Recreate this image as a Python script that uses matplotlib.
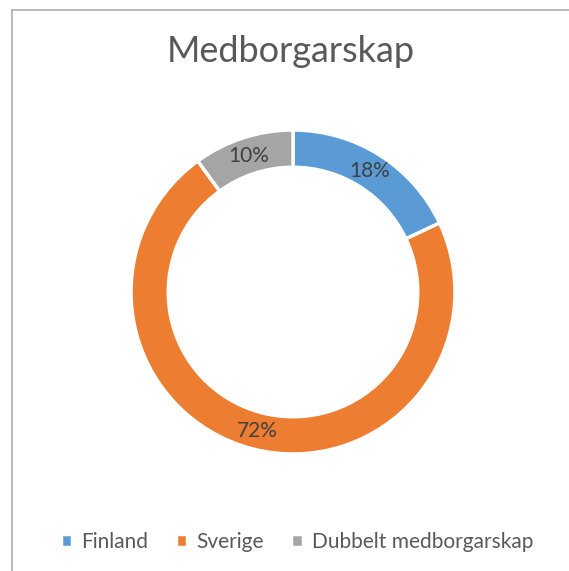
import matplotlib.pyplot as plt
from matplotlib.lines import Line2D

categories = ["Finland", "Sverige", "Dubbelt medborgarskap"]
shares = [18, 72, 10]
colors = ["#5B9BD5", "#ED7D31", "#A5A5A5"]

plt.rcParams['font.family'] = ['Lato', 'DejaVu Sans']

W, H = 569, 571
fig = plt.figure(figsize=(W / 100, H / 100), dpi=100)

# frame (top and left edges visible)
fig.add_artist(Line2D([11.5 / W, 11.5 / W], [0, 1 - 9.5 / H], transform=fig.transFigure,
                      color="#b3b3b3", lw=1.3))
fig.add_artist(Line2D([11.5 / W, 1], [1 - 9.5 / H, 1 - 9.5 / H], transform=fig.transFigure,
                      color="#b3b3b3", lw=1.3))

cx, cy, r = 293, 292, 162
ax = fig.add_axes([(cx - r) / W, (H - cy - r) / H, 2 * r / W, 2 * r / H])

wedges, texts, autotexts = ax.pie(
    shares, colors=colors, startangle=90, counterclock=False,
    radius=1.0, wedgeprops=dict(width=0.23, edgecolor="white", linewidth=2.5),
    autopct=lambda p: f"{p:.0f}%", pctdistance=0.885,
    textprops=dict(fontsize=15, color="#404040"))
ax.set_xlim(-1, 1)
ax.set_ylim(-1, 1)
ax.set_aspect("equal")

fig.text(291 / W, 1 - 52 / H, "Medborgarskap", ha="center", va="center",
         fontsize=26, color="#595959")

fig.legend(wedges, categories, loc="center", bbox_to_anchor=(297 / W, 1 - 542 / H),
           ncol=3, frameon=False, fontsize=15, labelcolor="#595959",
           handlelength=0.55, handleheight=0.55, handletextpad=0.45, columnspacing=1.3)

fig.savefig("out.png", dpi=100)
